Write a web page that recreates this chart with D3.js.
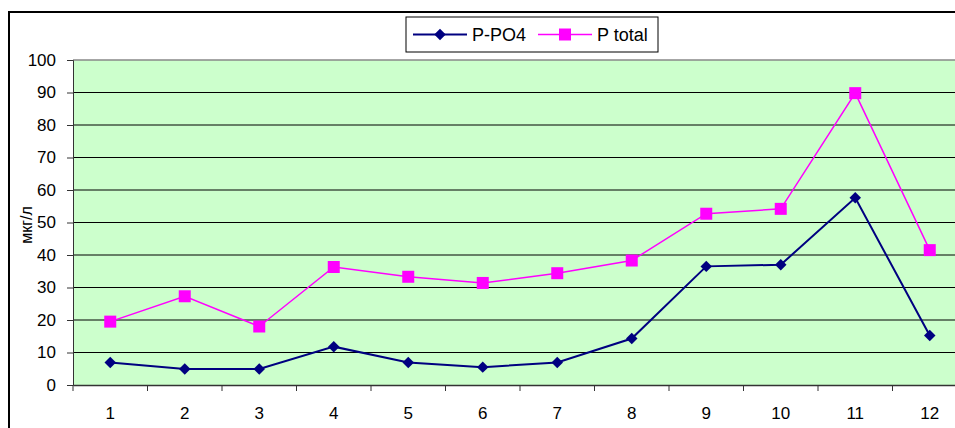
<!DOCTYPE html>
<html>
<head>
<meta charset="utf-8">
<script src="https://cdn.jsdelivr.net/npm/d3@7"></script>
<style>
  body { margin: 0; background: #fff; overflow: hidden; }
  svg { display: block; font-family: 'Liberation Sans', Arial, sans-serif; }
</style>
</head>
<body>
<div id="chart-container"></div>
<script>
// values
const months = ['1', '2', '3', '4', '5', '6', '7', '8', '9', '10', '11', '12']
const pPO4 = [6.9, 4.9, 4.9, 11.8, 6.9, 5.5, 6.9, 14.3, 36.5, 37.0, 57.6, 15.2]
const pTotal = [19.5, 27.3, 18.0, 36.3, 33.3, 31.4, 34.4, 38.3, 52.7, 54.2, 89.8, 41.5]
const yTicks = [0, 10, 20, 30, 40, 50, 60, 70, 80, 90, 100]
const seriesNames = ['P-PO4', 'P total']

const width = 955
const height = 428
const plot = { left: 73, top: 60, right: 967, bottom: 385 }

const svg = d3.select('#chart-container')
  .append('svg')
  .attr('width', width)
  .attr('height', height)

const x = d3.scaleBand().domain(months).range([plot.left, plot.right])
const y = d3.scaleLinear().domain([0, 100]).range([plot.bottom, plot.top])

// outer chart frame (runs off the right and bottom of the picture)
svg.append('rect')
  .attr('x', 9).attr('y', 12)
  .attr('width', 1000).attr('height', 500)
  .attr('fill', '#fff')
  .attr('stroke', '#000')
  .attr('stroke-width', 2)

// plot area
svg.append('rect')
  .attr('x', plot.left).attr('y', plot.top)
  .attr('width', plot.right - plot.left)
  .attr('height', plot.bottom - plot.top)
  .attr('fill', '#ccffcc')

// grid lines
svg.append('g')
  .selectAll('line')
  .data(yTicks.filter(d => d > 0))
  .join('line')
  .attr('x1', plot.left)
  .attr('x2', plot.right)
  .attr('y1', d => y(d))
  .attr('y2', d => y(d))
  .attr('stroke', d => d === 100 ? '#888' : '#000')
  .attr('stroke-width', d => d === 100 ? 1.5 : 1)

// y axis
const yAxis = svg.append('g')
  .attr('transform', `translate(${plot.left},0)`)
  .call(d3.axisLeft(y).tickValues(yTicks).tickSize(6).tickPadding(11))
yAxis.select('.domain').attr('stroke', '#333')
yAxis.selectAll('.tick line').attr('stroke', '#333')
yAxis.selectAll('text')
  .attr('font-size', 17)
  .attr('fill', '#000')
  .attr('font-family', "'Liberation Sans', Arial, sans-serif")

// x axis, ticks between categories
const xAxis = svg.append('g')
  .attr('transform', `translate(0,${plot.bottom})`)
  .call(d3.axisBottom(x).tickSize(0).tickPadding(22))
xAxis.select('.domain').attr('stroke', '#333').attr('stroke-width', 1.5)
xAxis.selectAll('text')
  .attr('font-size', 17)
  .attr('fill', '#000')
  .attr('font-family', "'Liberation Sans', Arial, sans-serif")

svg.append('g')
  .selectAll('line')
  .data(months)
  .join('line')
  .attr('x1', d => x(d))
  .attr('x2', d => x(d))
  .attr('y1', plot.bottom)
  .attr('y2', plot.bottom + 6)
  .attr('stroke', '#333')

// y axis title
svg.append('text')
  .attr('transform', 'translate(32,225) rotate(-90)')
  .attr('text-anchor', 'middle')
  .attr('font-size', 16)
  .text('мкг/л')

const cx = d => x(d) + x.bandwidth() / 2

const line = d3.line()
  .x((d, i) => cx(months[i]))
  .y(d => y(d))

const diamond = d3.symbol().type(d3.symbolDiamond2).size(84)
const square = d3.symbol().type(d3.symbolSquare).size(144)

const series = [
  { name: seriesNames[0], values: pPO4, color: '#000080', width: 2, marker: diamond },
  { name: seriesNames[1], values: pTotal, color: '#ff00ff', width: 1.5, marker: square }
]

series.forEach(s => {
  svg.append('path')
    .datum(s.values)
    .attr('fill', 'none')
    .attr('stroke', s.color)
    .attr('stroke-width', s.width)
    .attr('d', line)

  svg.append('g')
    .selectAll('path')
    .data(s.values)
    .join('path')
    .attr('transform', (d, i) => `translate(${cx(months[i])},${y(d)})`)
    .attr('d', s.marker)
    .attr('fill', s.color)
})

// legend
const legend = svg.append('g')
legend.append('rect')
  .attr('x', 406).attr('y', 17)
  .attr('width', 252).attr('height', 35)
  .attr('fill', '#fff')
  .attr('stroke', '#000')

const legendItems = [
  { ...series[0], x: 413 },
  { ...series[1], x: 538 }
]

legendItems.forEach(s => {
  const g = legend.append('g').attr('transform', `translate(${s.x},34.5)`)
  g.append('line')
    .attr('x1', 0).attr('x2', 54)
    .attr('stroke', s.color)
    .attr('stroke-width', s.width)
  g.append('path')
    .attr('transform', 'translate(27,0)')
    .attr('d', s.marker)
    .attr('fill', s.color)
  g.append('text')
    .attr('x', 59)
    .attr('y', 6.5)
    .attr('font-size', 18)
    .text(s.name)
})
</script>
</body>
</html>
